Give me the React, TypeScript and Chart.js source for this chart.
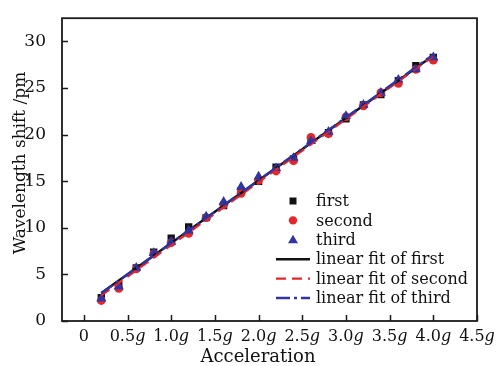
import { useEffect, useRef } from 'react';
import { Chart, registerables } from 'chart.js';

Chart.register(...registerables);

// Applied acceleration (in g) for each measurement
const acceleration = [0.2, 0.4, 0.6, 0.8, 1.0, 1.2, 1.4, 1.6, 1.8, 2.0, 2.2, 2.4, 2.6, 2.8, 3.0, 3.2, 3.4, 3.6, 3.8, 4.0];

// Wavelength shift (pm) of the three measurement runs
const firstShift = [2.5, 3.8, 5.7, 7.4, 8.9, 10.1, 11.1, 12.4, 14.0, 15.0, 16.5, 17.4, 19.4, 20.2, 21.7, 23.2, 24.3, 25.8, 27.4, 28.3];
const secondShift = [2.2, 3.5, 5.6, 7.2, 8.4, 9.4, 11.1, 12.5, 13.7, 15.1, 16.1, 17.2, 19.7, 20.1, 21.9, 23.1, 24.5, 25.5, 27.0, 28.0];
const thirdShift = [2.4, 3.7, 5.7, 7.3, 8.5, 9.7, 11.2, 12.8, 14.4, 15.5, 16.4, 17.5, 19.3, 20.3, 22.0, 23.2, 24.5, 25.9, 27.0, 28.3];

// Axis ticks
const xTickValues = [0, 0.5, 1.0, 1.5, 2.0, 2.5, 3.0, 3.5, 4.0, 4.5];
const xTickNumbers = ['0', '0.5', '1.0', '1.5', '2.0', '2.5', '3.0', '3.5', '4.0', '4.5'];
const yTickValues = [0, 5, 10, 15, 20, 25, 30];

const X_MIN = -0.25;
const X_MAX = 4.5;
const Y_MIN = 0;
const Y_MAX = 32.5;

const BLACK = '#111111';
const RED = '#e5262b';
const BLUE = '#2f36a3';
const TEXT = '#111111';
const SERIF = "'DejaVu Serif', 'Liberation Serif', serif";

// Least-squares straight line through the points, evaluated at both ends
function linearFit(xs: number[], ys: number[]) {
  const n = xs.length;
  const mx = xs.reduce((s, v) => s + v, 0) / n;
  const my = ys.reduce((s, v) => s + v, 0) / n;
  let sxy = 0;
  let sxx = 0;
  for (let i = 0; i < n; i++) {
    sxy += (xs[i] - mx) * (ys[i] - my);
    sxx += (xs[i] - mx) * (xs[i] - mx);
  }
  const slope = sxy / sxx;
  const icpt = my - slope * mx;
  const x0 = xs[0];
  const x1 = xs[n - 1];
  return [
    { x: x0, y: icpt + slope * x0 },
    { x: x1, y: icpt + slope * x1 },
  ];
}

const toPoints = (ys: number[]) => acceleration.map((x, i) => ({ x, y: ys[i] }));

type LegendItem = { label: string; kind: 'point' | 'line'; style?: string; color: string; dash?: number[] };

const legendItems: LegendItem[] = [
  { label: 'first', kind: 'point', style: 'rect', color: BLACK },
  { label: 'second', kind: 'point', style: 'circle', color: RED },
  { label: 'third', kind: 'point', style: 'triangle', color: BLUE },
  { label: 'linear fit of first', kind: 'line', color: BLACK, dash: [] },
  { label: 'linear fit of second', kind: 'line', color: RED, dash: [10, 6] },
  { label: 'linear fit of third', kind: 'line', color: BLUE, dash: [14, 4, 3, 4] },
];

const framePlugin = {
  id: 'frame',
  afterDraw(chart: any) {
    const { ctx, chartArea } = chart;
    const xs = chart.scales.x;
    const ys = chart.scales.y;
    const { left, right, top, bottom } = chartArea;
    ctx.save();

    // plot box
    ctx.strokeStyle = '#1a1a1a';
    ctx.lineWidth = 1.8;
    ctx.strokeRect(left, top, right - left, bottom - top);

    // inward tick marks
    ctx.lineWidth = 1.5;
    ctx.beginPath();
    for (const v of yTickValues) {
      const py = Math.round(ys.getPixelForValue(v)) + 0.5;
      ctx.moveTo(left, py);
      ctx.lineTo(left + 6, py);
    }
    for (const v of xTickValues) {
      const px = Math.round(xs.getPixelForValue(v)) + 0.5;
      ctx.moveTo(px, bottom);
      ctx.lineTo(px, bottom - 6);
    }
    ctx.stroke();

    // x tick labels: number upright, g italic
    ctx.fillStyle = TEXT;
    ctx.textBaseline = 'alphabetic';
    ctx.textAlign = 'left';
    const upright = `16px ${SERIF}`;
    const italic = `italic 16px ${SERIF}`;
    xTickValues.forEach((v, i) => {
      const num = xTickNumbers[i];
      const unit = v === 0 ? '' : 'g';
      ctx.font = upright;
      const wNum = ctx.measureText(num).width;
      ctx.font = italic;
      const wUnit = unit ? ctx.measureText(unit).width : 0;
      const px = xs.getPixelForValue(v);
      const x0 = px - (wNum + wUnit) / 2;
      ctx.font = upright;
      ctx.fillText(num, x0, 341);
      if (unit) {
        ctx.font = italic;
        ctx.fillText(unit, x0 + wNum, 341);
      }
    });

    // axis titles
    ctx.font = `18px ${SERIF}`;
    ctx.textAlign = 'center';
    ctx.fillText('Acceleration', 258, 362);
    ctx.save();
    ctx.translate(21, 163);
    ctx.rotate(-Math.PI / 2);
    ctx.textBaseline = 'middle';
    ctx.font = `17px ${SERIF}`;
    ctx.fillText('Wavelength shift /pm', 0, 0);
    ctx.restore();

    // legend
    const markX = 293;
    const lineX0 = 276;
    const lineX1 = 310;
    const textX = 316;
    const rowY0 = 201;
    const rowStep = 19.4;
    ctx.font = `16px ${SERIF}`;
    ctx.textAlign = 'left';
    ctx.textBaseline = 'middle';
    legendItems.forEach((item, i) => {
      const y = rowY0 + i * rowStep;
      if (item.kind === 'point') {
        ctx.fillStyle = item.color;
        ctx.beginPath();
        if (item.style === 'rect') {
          ctx.rect(markX - 3.5, y - 3.5, 7, 7);
        } else if (item.style === 'circle') {
          ctx.arc(markX, y, 4.2, 0, Math.PI * 2);
        } else {
          ctx.moveTo(markX, y - 5);
          ctx.lineTo(markX + 5, y + 3.5);
          ctx.lineTo(markX - 5, y + 3.5);
          ctx.closePath();
        }
        ctx.fill();
      } else {
        ctx.strokeStyle = item.color;
        ctx.lineWidth = 2.4;
        ctx.setLineDash(item.dash || []);
        ctx.beginPath();
        ctx.moveTo(lineX0, y);
        ctx.lineTo(lineX1, y);
        ctx.stroke();
        ctx.setLineDash([]);
      }
      ctx.fillStyle = TEXT;
      ctx.fillText(item.label, textX, y + 1);
    });

    ctx.restore();
  },
};

export default function App() {
  const canvasRef = useRef<HTMLCanvasElement>(null);

  useEffect(() => {
    if (!canvasRef.current) return;
    const chart = new Chart(canvasRef.current, {
      type: 'scatter',
      data: {
        datasets: [
          {
            label: 'linear fit of third',
            data: linearFit(acceleration, thirdShift),
            showLine: true,
            borderColor: BLUE,
            borderWidth: 2.4,
            borderDash: [14, 4, 3, 4],
            pointRadius: 0,
            order: 1,
          },
          {
            label: 'linear fit of second',
            data: linearFit(acceleration, secondShift),
            showLine: true,
            borderColor: RED,
            borderWidth: 2.4,
            borderDash: [10, 6],
            pointRadius: 0,
            order: 2,
          },
          {
            label: 'linear fit of first',
            data: linearFit(acceleration, firstShift),
            showLine: true,
            borderColor: BLACK,
            borderWidth: 2.4,
            pointRadius: 0,
            order: 3,
          },
          {
            label: 'third',
            data: toPoints(thirdShift),
            pointStyle: 'triangle',
            pointRadius: 5.8,
            backgroundColor: BLUE,
            borderColor: BLUE,
            borderWidth: 0,
            order: 4,
          },
          {
            label: 'second',
            data: toPoints(secondShift),
            pointStyle: 'circle',
            pointRadius: 4.4,
            backgroundColor: RED,
            borderColor: RED,
            borderWidth: 0,
            order: 5,
          },
          {
            label: 'first',
            data: toPoints(firstShift),
            pointStyle: 'rect',
            pointRadius: 5.2,
            backgroundColor: BLACK,
            borderColor: BLACK,
            borderWidth: 0,
            order: 6,
          },
        ],
      },
      options: {
        responsive: false,
        animation: false,
        layout: { padding: { left: 0, top: 11, right: 19, bottom: 0 } },
        plugins: {
          legend: { display: false },
          tooltip: { enabled: false },
        },
        scales: {
          x: {
            type: 'linear',
            min: X_MIN,
            max: X_MAX,
            grid: { display: false },
            border: { display: false },
            ticks: { display: false },
            afterBuildTicks: (scale: any) => {
              scale.ticks = xTickValues.map((value) => ({ value }));
            },
            afterFit: (scale: any) => {
              scale.height = 45;
            },
          },
          y: {
            type: 'linear',
            min: Y_MIN,
            max: Y_MAX,
            grid: { display: false },
            border: { display: false },
            afterBuildTicks: (scale: any) => {
              scale.ticks = yTickValues.map((value) => ({ value }));
            },
            ticks: {
              padding: 8,
              color: TEXT,
              font: { family: SERIF, size: 17 },
              callback: (v: any) => String(v),
            },
            afterFit: (scale: any) => {
              scale.width = 62;
            },
          },
        },
      },
      plugins: [framePlugin],
    });
    return () => chart.destroy();
  }, []);

  return (
    <canvas
      ref={canvasRef}
      width={496}
      height={366}
      style={{ position: 'fixed', left: 0, top: 0, display: 'block', background: '#fff' }}
    />
  );
}
